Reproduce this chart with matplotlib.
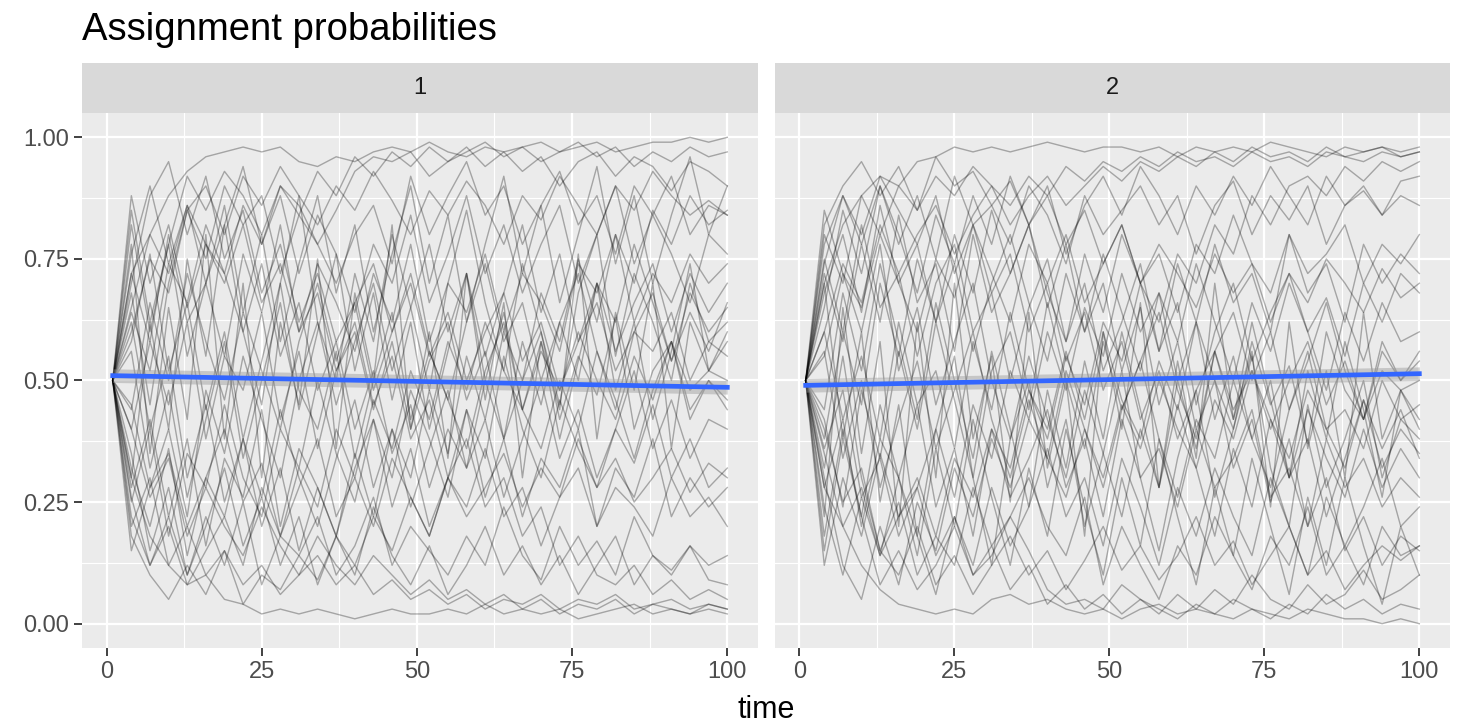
import matplotlib.pyplot as plt
import numpy as np

# time points (every 3rd step of the run)
time = list(range(1, 101, 3))

# assignment probability for cluster 1, one list per run
run01 = [0.50,0.72,0.80,0.88,0.93,0.96,0.97,0.98,0.97,0.98,0.95,0.94,0.96,0.95,0.97,0.98,0.97,0.99,0.97,0.96,0.98,0.97,0.98,0.99,0.97,0.98,0.99,0.97,0.98,0.99,0.99,1.00,0.99,1.00]
run02 = [0.50,0.82,0.60,0.78,0.92,0.85,0.93,0.88,0.80,0.90,0.86,0.78,0.85,0.93,0.96,0.95,0.97,0.92,0.95,0.98,0.94,0.97,0.93,0.96,0.90,0.95,0.97,0.92,0.96,0.94,0.89,0.95,0.93,0.90]
run03 = [0.50,0.68,0.45,0.70,0.85,0.75,0.90,0.82,0.88,0.72,0.84,0.78,0.70,0.80,0.86,0.74,0.92,0.80,0.88,0.95,0.84,0.90,0.78,0.86,0.93,0.82,0.88,0.76,0.90,0.84,0.92,0.80,0.86,0.84]
run04 = [0.50,0.30,0.62,0.40,0.75,0.55,0.82,0.60,0.45,0.70,0.88,0.62,0.50,0.72,0.58,0.80,0.65,0.48,0.70,0.85,0.66,0.52,0.74,0.60,0.45,0.68,0.80,0.55,0.72,0.62,0.50,0.70,0.58,0.62]
run05 = [0.50,0.25,0.40,0.18,0.35,0.28,0.45,0.30,0.22,0.40,0.32,0.50,0.35,0.25,0.42,0.30,0.48,0.38,0.26,0.44,0.34,0.55,0.40,0.30,0.46,0.36,0.28,0.40,0.33,0.45,0.30,0.38,0.28,0.32]
run06 = [0.50,0.30,0.18,0.12,0.08,0.10,0.05,0.04,0.02,0.03,0.02,0.03,0.02,0.01,0.02,0.03,0.02,0.02,0.03,0.02,0.04,0.02,0.03,0.02,0.03,0.01,0.02,0.03,0.04,0.02,0.03,0.02,0.03,0.02]
run07 = [0.50,0.20,0.30,0.12,0.20,0.10,0.15,0.08,0.12,0.06,0.10,0.14,0.08,0.12,0.06,0.09,0.05,0.07,0.04,0.06,0.03,0.05,0.04,0.06,0.03,0.05,0.04,0.06,0.03,0.04,0.05,0.03,0.04,0.03]
run08 = [0.50,0.35,0.15,0.28,0.10,0.22,0.12,0.25,0.08,0.18,0.14,0.22,0.10,0.16,0.26,0.12,0.20,0.15,0.10,0.18,0.12,0.24,0.14,0.09,0.20,0.12,0.17,0.10,0.22,0.14,0.11,0.16,0.09,0.08]
run09 = [0.50,0.62,0.40,0.55,0.30,0.45,0.25,0.38,0.20,0.32,0.15,0.28,0.18,0.35,0.22,0.40,0.30,0.48,0.35,0.55,0.42,0.60,0.50,0.68,0.58,0.75,0.62,0.80,0.70,0.85,0.78,0.88,0.82,0.85]
run10 = [0.50,0.78,0.35,0.65,0.42,0.80,0.38,0.70,0.30,0.62,0.45,0.75,0.36,0.68,0.50,0.82,0.40,0.60,0.34,0.72,0.46,0.66,0.30,0.58,0.44,0.76,0.38,0.64,0.48,0.70,0.36,0.62,0.52,0.58]
run11 = [0.50,0.88,0.70,0.82,0.65,0.78,0.72,0.60,0.74,0.55,0.66,0.48,0.58,0.40,0.52,0.35,0.45,0.28,0.40,0.32,0.50,0.38,0.58,0.45,0.62,0.50,0.70,0.56,0.66,0.74,0.60,0.72,0.64,0.70]
run12 = [0.50,0.15,0.28,0.40,0.22,0.48,0.35,0.55,0.42,0.30,0.50,0.62,0.45,0.58,0.70,0.52,0.65,0.78,0.60,0.72,0.55,0.68,0.82,0.64,0.76,0.58,0.70,0.62,0.78,0.66,0.54,0.68,0.60,0.65]
run13 = [0.50,0.60,0.75,0.68,0.85,0.90,0.80,0.92,0.86,0.94,0.88,0.82,0.90,0.85,0.93,0.87,0.80,0.89,0.84,0.91,0.86,0.78,0.88,0.83,0.92,0.86,0.80,0.90,0.85,0.93,0.88,0.84,0.87,0.84]
run14 = [0.50,0.45,0.28,0.35,0.20,0.30,0.40,0.25,0.33,0.18,0.28,0.38,0.22,0.30,0.20,0.34,0.26,0.18,0.30,0.24,0.36,0.22,0.28,0.16,0.26,0.32,0.20,0.28,0.24,0.18,0.30,0.22,0.26,0.20]
run15 = [0.50,0.22,0.12,0.20,0.08,0.15,0.22,0.12,0.28,0.18,0.32,0.24,0.40,0.30,0.46,0.36,0.52,0.42,0.58,0.48,0.62,0.52,0.44,0.56,0.48,0.60,0.50,0.42,0.55,0.46,0.58,0.48,0.52,0.50]
run16 = [0.50,0.72,0.58,0.80,0.62,0.70,0.55,0.76,0.64,0.82,0.60,0.74,0.66,0.56,0.72,0.62,0.78,0.58,0.70,0.64,0.76,0.60,0.72,0.66,0.56,0.74,0.68,0.80,0.62,0.72,0.66,0.76,0.70,0.74]
run17 = [0.50,0.65,0.80,0.72,0.86,0.78,0.70,0.82,0.66,0.74,0.60,0.68,0.52,0.62,0.45,0.55,0.38,0.46,0.30,0.38,0.24,0.30,0.18,0.24,0.12,0.18,0.10,0.08,0.12,0.06,0.09,0.05,0.07,0.05]
run18 = [0.50,0.40,0.58,0.45,0.62,0.38,0.55,0.48,0.64,0.42,0.56,0.36,0.52,0.60,0.44,0.58,0.40,0.54,0.62,0.46,0.56,0.38,0.50,0.60,0.42,0.55,0.47,0.63,0.40,0.52,0.58,0.44,0.50,0.46]
run19 = [0.50,0.18,0.10,0.05,0.12,0.06,0.15,0.04,0.10,0.07,0.14,0.09,0.18,0.12,0.22,0.15,0.26,0.18,0.30,0.22,0.28,0.35,0.24,0.32,0.26,0.38,0.28,0.34,0.25,0.30,0.36,0.27,0.33,0.30]
run20 = [0.50,0.70,0.88,0.95,0.80,0.92,0.75,0.85,0.68,0.78,0.62,0.72,0.58,0.66,0.74,0.60,0.70,0.55,0.64,0.50,0.60,0.68,0.54,0.62,0.48,0.58,0.66,0.52,0.60,0.56,0.64,0.50,0.58,0.55]
run21 = [0.50,0.56,0.32,0.48,0.26,0.42,0.58,0.34,0.50,0.66,0.44,0.60,0.76,0.52,0.68,0.46,0.62,0.40,0.56,0.72,0.50,0.64,0.44,0.58,0.38,0.54,0.70,0.48,0.62,0.42,0.56,0.74,0.52,0.60]
run22 = [0.50,0.32,0.20,0.36,0.14,0.30,0.22,0.38,0.26,0.44,0.30,0.20,0.34,0.46,0.28,0.40,0.24,0.36,0.48,0.32,0.42,0.26,0.38,0.50,0.34,0.44,0.30,0.40,0.52,0.36,0.46,0.34,0.42,0.40]
run23 = [0.50,0.64,0.52,0.74,0.66,0.82,0.72,0.86,0.78,0.90,0.84,0.93,0.88,0.96,0.92,0.97,0.94,0.98,0.95,0.97,0.99,0.96,0.98,0.95,0.97,0.99,0.96,0.98,0.94,0.97,0.95,0.98,0.96,0.97]
run24 = [0.50,0.40,0.26,0.34,0.18,0.28,0.20,0.14,0.24,0.16,0.10,0.18,0.12,0.08,0.14,0.10,0.06,0.09,0.05,0.07,0.04,0.06,0.03,0.05,0.02,0.04,0.03,0.05,0.02,0.04,0.03,0.02,0.04,0.03]
run25 = [0.50,0.85,0.62,0.78,0.55,0.70,0.86,0.64,0.80,0.58,0.74,0.88,0.68,0.82,0.60,0.76,0.90,0.70,0.84,0.62,0.78,0.92,0.72,0.86,0.66,0.80,0.94,0.74,0.88,0.70,0.84,0.96,0.80,0.90]
run26 = [0.50,0.28,0.42,0.22,0.38,0.16,0.34,0.26,0.44,0.20,0.36,0.28,0.18,0.32,0.42,0.24,0.36,0.20,0.30,0.44,0.26,0.38,0.22,0.34,0.28,0.40,0.20,0.32,0.26,0.38,0.22,0.30,0.24,0.28]
run27 = [0.50,0.76,0.90,0.74,0.86,0.70,0.82,0.94,0.78,0.88,0.72,0.84,0.76,0.64,0.78,0.70,0.84,0.66,0.76,0.88,0.72,0.82,0.68,0.78,0.86,0.70,0.80,0.90,0.74,0.84,0.76,0.66,0.80,0.76]
run28 = [0.50,0.26,0.12,0.22,0.10,0.20,0.32,0.16,0.26,0.12,0.22,0.08,0.18,0.10,0.24,0.14,0.08,0.16,0.06,0.12,0.20,0.10,0.16,0.08,0.14,0.06,0.12,0.18,0.08,0.14,0.10,0.16,0.12,0.14]
run29 = [0.50,0.58,0.76,0.52,0.66,0.44,0.60,0.38,0.54,0.70,0.48,0.40,0.56,0.34,0.50,0.64,0.42,0.56,0.46,0.36,0.52,0.62,0.44,0.36,0.50,0.40,0.56,0.46,0.34,0.48,0.58,0.42,0.50,0.44]
run30 = [0.50,0.44,0.66,0.50,0.72,0.58,0.46,0.64,0.52,0.40,0.58,0.70,0.54,0.66,0.48,0.60,0.72,0.56,0.46,0.62,0.74,0.58,0.66,0.50,0.62,0.72,0.56,0.44,0.60,0.68,0.54,0.64,0.56,0.66]

runs = [run01, run02, run03, run04, run05, run06, run07, run08, run09, run10,
        run11, run12, run13, run14, run15, run16, run17, run18, run19, run20,
        run21, run22, run23, run24, run25, run26, run27, run28, run29, run30]

# linear smooth per panel (start, end)
smooth_x = [1, 100]
smooth_1 = [0.510, 0.486]
smooth_2 = [0.490, 0.514]
band = 0.014

panels = ["1", "2"]

plt.rcParams['font.family'] = ['Liberation Sans', 'DejaVu Sans']

fig = plt.figure(figsize=(14.6, 7.28), dpi=100)
W, H = 1460, 728

def px(l, t, r, b):
    return [l / W, 1 - b / H, (r - l) / W, (b - t) / H]

bounds = [(82, 758), (775, 1450)]

for i, (l, r) in enumerate(bounds):
    ax = fig.add_axes(px(l, 113, r, 648))
    ax.set_facecolor('#EBEBEB')
    for s in ax.spines.values():
        s.set_visible(False)
    ax.set_xlim(-3.95, 104.95)
    ax.set_ylim(-0.05, 1.05)
    ax.set_xticks([0, 25, 50, 75, 100])
    ax.set_yticks([0, 0.25, 0.5, 0.75, 1.0])
    ax.set_xticks([12.5, 37.5, 62.5, 87.5], minor=True)
    ax.set_yticks([0.125, 0.375, 0.625, 0.875], minor=True)
    ax.grid(which='major', color='white', lw=1.6)
    ax.grid(which='minor', color='white', lw=0.8)
    ax.set_axisbelow(True)
    ax.tick_params(which='minor', length=0)
    ax.tick_params(which='major', length=6, width=1.3, color='#333333',
                   labelcolor='#4D4D4D', labelsize=17, pad=3)
    if i == 0:
        ax.set_yticklabels(['0.00', '0.25', '0.50', '0.75', '1.00'])
    else:
        ax.tick_params(axis='y', left=False, labelleft=False)

    for run in runs:
        y = np.array(run) if i == 0 else 1 - np.array(run)
        ax.plot(time, y, color='black', alpha=0.3, lw=1.0)

    sm = smooth_1 if i == 0 else smooth_2
    ax.fill_between(smooth_x, [v - band for v in sm], [v + band for v in sm],
                    color='#999999', alpha=0.45, lw=0, zorder=3)
    ax.plot(smooth_x, sm, color='#3366FF', lw=3.4, zorder=4)

    # facet strip
    st = fig.add_axes(px(l, 63, r, 113))
    st.set_facecolor('#D9D9D9')
    st.set_xticks([])
    st.set_yticks([])
    for s in st.spines.values():
        s.set_visible(False)
    st.text(0.5, 0.5, panels[i], ha='center', va='center', fontsize=17,
            color='#1A1A1A', transform=st.transAxes)

fig.text(82 / W, 1 - 40 / H, 'Assignment probabilities', fontsize=27.5,
         color='black', ha='left', va='baseline')
fig.text(766 / W, 1 - 718 / H, 'time', fontsize=22, color='black',
         ha='center', va='baseline')

fig.savefig('out.png', dpi=100, facecolor='white')
